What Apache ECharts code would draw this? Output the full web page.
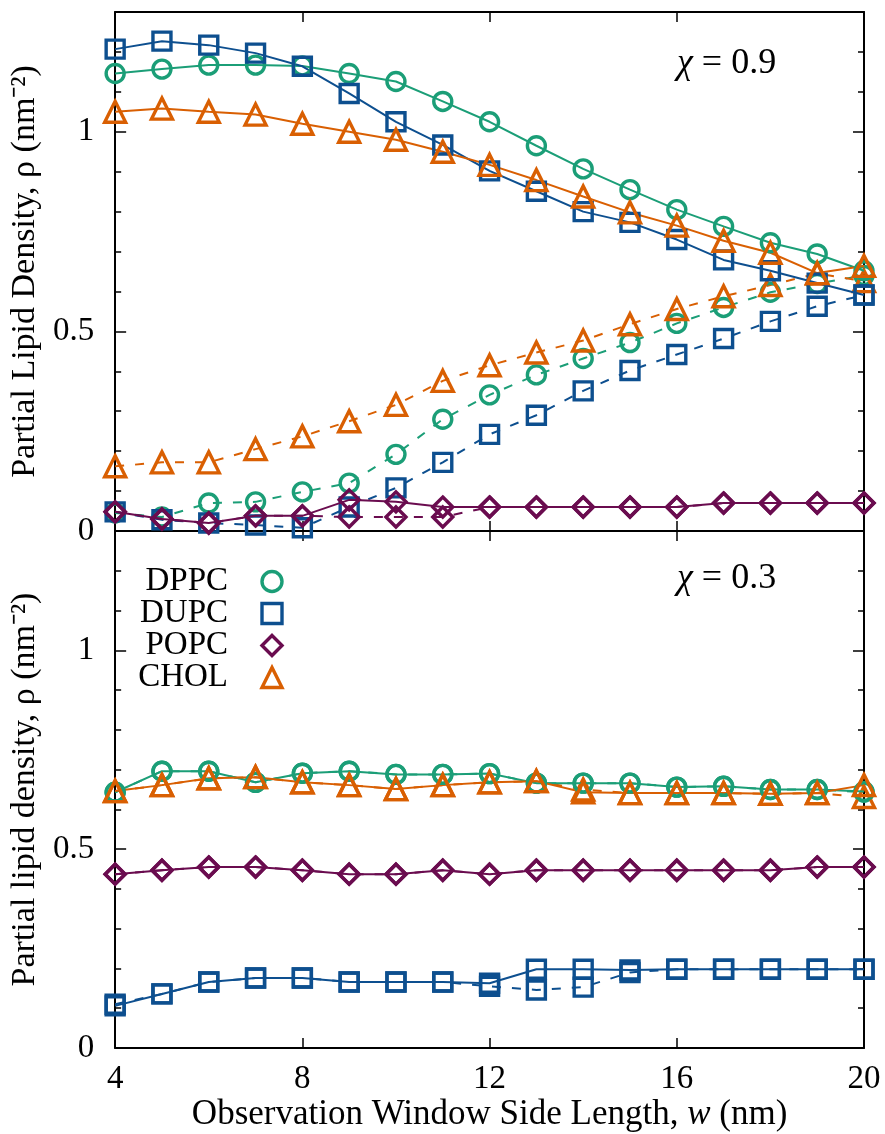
<!DOCTYPE html>
<html>
<head>
<meta charset="utf-8">
<script src="https://cdn.jsdelivr.net/npm/echarts@6/dist/echarts.min.js"></script>
<style>html,body{margin:0;padding:0;background:#fff;}#c{width:885px;height:1134px;}</style>
</head>
<body>
<div id="c"></div>
<script>
// ---- data ----
const w = [4,5,6,7,8,9,10,11,12,13,14,15,16,17,18,19,20];
const yTicks = ['0','0.5','1'];
// chi = 0.9 (top panel), solid set
const dppcTopSolid = [1.146,1.157,1.167,1.167,1.165,1.146,1.126,1.076,1.025,0.965,0.907,0.855,0.805,0.763,0.722,0.694,0.652];
const dupcTopSolid = [1.207,1.227,1.217,1.197,1.164,1.096,1.025,0.967,0.902,0.851,0.800,0.773,0.730,0.679,0.652,0.621,0.591];
const popcTopSolid = [0.048,0.030,0.020,0.038,0.038,0.078,0.073,0.060,0.060,0.060,0.060,0.060,0.060,0.070,0.070,0.070,0.070];
const cholTopSolid = [1.050,1.058,1.050,1.043,1.020,1.000,0.980,0.950,0.917,0.879,0.838,0.798,0.765,0.727,0.697,0.646,0.664];
// chi = 0.9 (top panel), dashed set
const dppcTopDash = [0.045,0.035,0.070,0.073,0.098,0.120,0.192,0.280,0.341,0.391,0.432,0.472,0.520,0.560,0.598,0.620,0.640];
const dupcTopDash = [0.048,0.028,0.020,0.015,0.008,0.060,0.108,0.172,0.242,0.290,0.351,0.402,0.442,0.482,0.525,0.563,0.591];
const popcTopDash = [0.048,0.030,0.020,0.038,0.038,0.035,0.035,0.035,0.060,0.060,0.060,0.060,0.060,0.070,0.070,0.070,0.070];
const cholTopDash = [0.162,0.172,0.172,0.205,0.237,0.275,0.316,0.376,0.415,0.447,0.477,0.518,0.556,0.588,0.616,0.645,0.626];
// chi = 0.3 (bottom panel), solid set
const dppcBotSolid = [0.643,0.696,0.696,0.668,0.691,0.696,0.688,0.688,0.690,0.666,0.666,0.666,0.656,0.658,0.650,0.650,0.645];
const dupcBotSolid = [0.106,0.136,0.166,0.176,0.176,0.166,0.166,0.166,0.163,0.198,0.198,0.196,0.198,0.198,0.198,0.198,0.198];
const popcBotSolid = [0.437,0.447,0.455,0.455,0.447,0.437,0.437,0.447,0.437,0.447,0.447,0.447,0.447,0.447,0.447,0.455,0.455];
const cholBotSolid = [0.646,0.661,0.678,0.681,0.668,0.661,0.651,0.661,0.668,0.671,0.643,0.641,0.641,0.641,0.639,0.641,0.661];
// chi = 0.3 (bottom panel), dashed set
const dppcBotDash = [0.643,0.696,0.696,0.668,0.691,0.696,0.688,0.688,0.690,0.666,0.666,0.666,0.656,0.658,0.650,0.650,0.643];
const dupcBotDash = [0.110,0.136,0.166,0.176,0.176,0.166,0.166,0.166,0.155,0.146,0.153,0.190,0.198,0.198,0.198,0.198,0.198];
const popcBotDash = [0.437,0.447,0.455,0.455,0.447,0.437,0.437,0.447,0.437,0.447,0.447,0.447,0.447,0.447,0.447,0.455,0.455];
const cholBotDash = [0.646,0.661,0.678,0.681,0.668,0.661,0.651,0.661,0.668,0.671,0.650,0.641,0.641,0.641,0.639,0.641,0.631];

const C = {DPPC:'#1b9e77', DUPC:'#0d4f8f', POPC:'#6a0c4f', CHOL:'#d95f02'};
const SYM = {DPPC:'circle', DUPC:'rect', POPC:'diamond', CHOL:'triangle'};
const SIZE = {DPPC:18, DUPC:18, POPC:20, CHOL:21};
const FONT = 'Liberation Serif';
const FS = 33;

function pair(a){ return w.map((x,i)=>[x,a[i]]); }
function mk(name, vals, grid, dashed){
  return {
    name: name, type:'line', xAxisIndex: grid*2, yAxisIndex: grid*4,
    data: pair(vals), symbol: SYM[name], symbolSize: SIZE[name],
    lineStyle: {color: C[name], width: 2, type: dashed ? [9,11] : 'solid'},
    itemStyle: {color: 'rgba(255,255,255,0)', borderColor: C[name], borderWidth: 3.4},
    emphasis: {disabled: true}, animation: false, z: dashed ? 2 : 3
  };
}
const series = [
  mk('DPPC', dppcTopDash, 0, true), mk('DUPC', dupcTopDash, 0, true), mk('POPC', popcTopDash, 0, true), mk('CHOL', cholTopDash, 0, true),
  mk('DPPC', dppcTopSolid, 0, false), mk('DUPC', dupcTopSolid, 0, false), mk('POPC', popcTopSolid, 0, false), mk('CHOL', cholTopSolid, 0, false),
  mk('DPPC', dppcBotDash, 1, true), mk('DUPC', dupcBotDash, 1, true), mk('POPC', popcBotDash, 1, true), mk('CHOL', cholBotDash, 1, true),
  mk('DPPC', dppcBotSolid, 1, false), mk('DUPC', dupcBotSolid, 1, false), mk('POPC', popcBotSolid, 1, false), mk('CHOL', cholBotSolid, 1, false)
];

const line = {show:true, onZero:false, lineStyle:{color:'#000', width:2}};
function xAx(grid, pos, labels){
  const a = {type:'value', gridIndex:grid, position:pos, min:4, max:20, interval:4,
    axisLine: line, axisTick:{show:true, inside:true, length:10, lineStyle:{color:'#000', width:1.5}},
    axisLabel:{show:labels, fontFamily:FONT, fontSize:FS, color:'#000', margin:15},
    splitLine:{show:false}};
  if (labels) {
    a.name = '{n|Observation Window Side Length, }{i|w}{n| (nm)}';
    a.nameLocation = 'middle'; a.nameGap = 46;
    a.nameTextStyle = {rich:{n:{fontFamily:FONT, fontSize:35, color:'#000'}, i:{fontFamily:FONT, fontSize:35, fontStyle:'italic', color:'#000'}}};
  }
  return a;
}
function yLab(v){
  if (Math.abs(v) < 1e-6) return yTicks[0];
  if (Math.abs(v-0.5) < 1e-6) return yTicks[1];
  if (Math.abs(v-1) < 1e-6) return yTicks[2];
  return '';
}
function yAx(grid, pos, major, labels, name){
  const a = {type:'value', gridIndex:grid, position:pos, min:0, max:1.3, interval: major ? 0.5 : 0.1,
    axisLine: major ? {show:false} : line,
    axisTick:{show:true, inside:true, length: major ? 11 : 6, lineStyle:{color:'#000', width:1.5}},
    axisLabel:{show:labels, formatter:yLab, fontFamily:FONT, fontSize:FS, color:'#000', margin:21},
    splitLine:{show:false}};
  if (name) {
    a.name = name; a.nameLocation='middle'; a.nameGap = 65;
    a.nameTextStyle = {fontFamily:FONT, fontSize:34, color:'#000'};
  }
  return a;
}
const option = {
  backgroundColor:'#fff',
  animation:false,
  grid:[{left:114, right:21, top:12, height:519}, {left:114, right:21, top:531, height:517}],
  xAxis:[xAx(0,'bottom',false), xAx(0,'top',false), xAx(1,'bottom',true), xAx(1,'top',false)],
  yAxis:[
    yAx(0,'left',false,true,'Partial Lipid Density, ρ (nm⁻²)'), yAx(0,'left',true,false), yAx(0,'right',false,false), yAx(0,'right',true,false),
    yAx(1,'left',false,true,'Partial lipid density, ρ (nm⁻²)'), yAx(1,'left',true,false), yAx(1,'right',false,false), yAx(1,'right',true,false)
  ],
  legend:{
    orient:'vertical', left:126, top:560, align:'right', itemGap:-1, itemWidth:20, itemHeight:20,
    selectedMode:false,
    textStyle:{fontFamily:FONT, fontSize:FS, lineHeight:22, color:'#000', width:97, align:'right', padding:[0,29,0,0]},
    data: ['DPPC','DUPC','POPC','CHOL'].map(n=>({name:n, icon:SYM[n],
      itemStyle:{color:'rgba(255,255,255,0)', borderColor:C[n], borderWidth:3.4}}))
  },
  graphic:[
    {type:'text', left:677, top:46, style:{text:'{i|χ}{n| = 0.9}', rich:{i:{fontFamily:FONT,fontStyle:'italic',fontSize:36,fill:'#000'}, n:{fontFamily:FONT,fontSize:36,fill:'#000'}}}},
    {type:'text', left:677, top:561, style:{text:'{i|χ}{n| = 0.3}', rich:{i:{fontFamily:FONT,fontStyle:'italic',fontSize:36,fill:'#000'}, n:{fontFamily:FONT,fontSize:36,fill:'#000'}}}}
  ],
  series: series
};
const chart = echarts.init(document.getElementById('c'), null, {renderer:'canvas'});
chart.setOption(option);
</script>
</body>
</html>
